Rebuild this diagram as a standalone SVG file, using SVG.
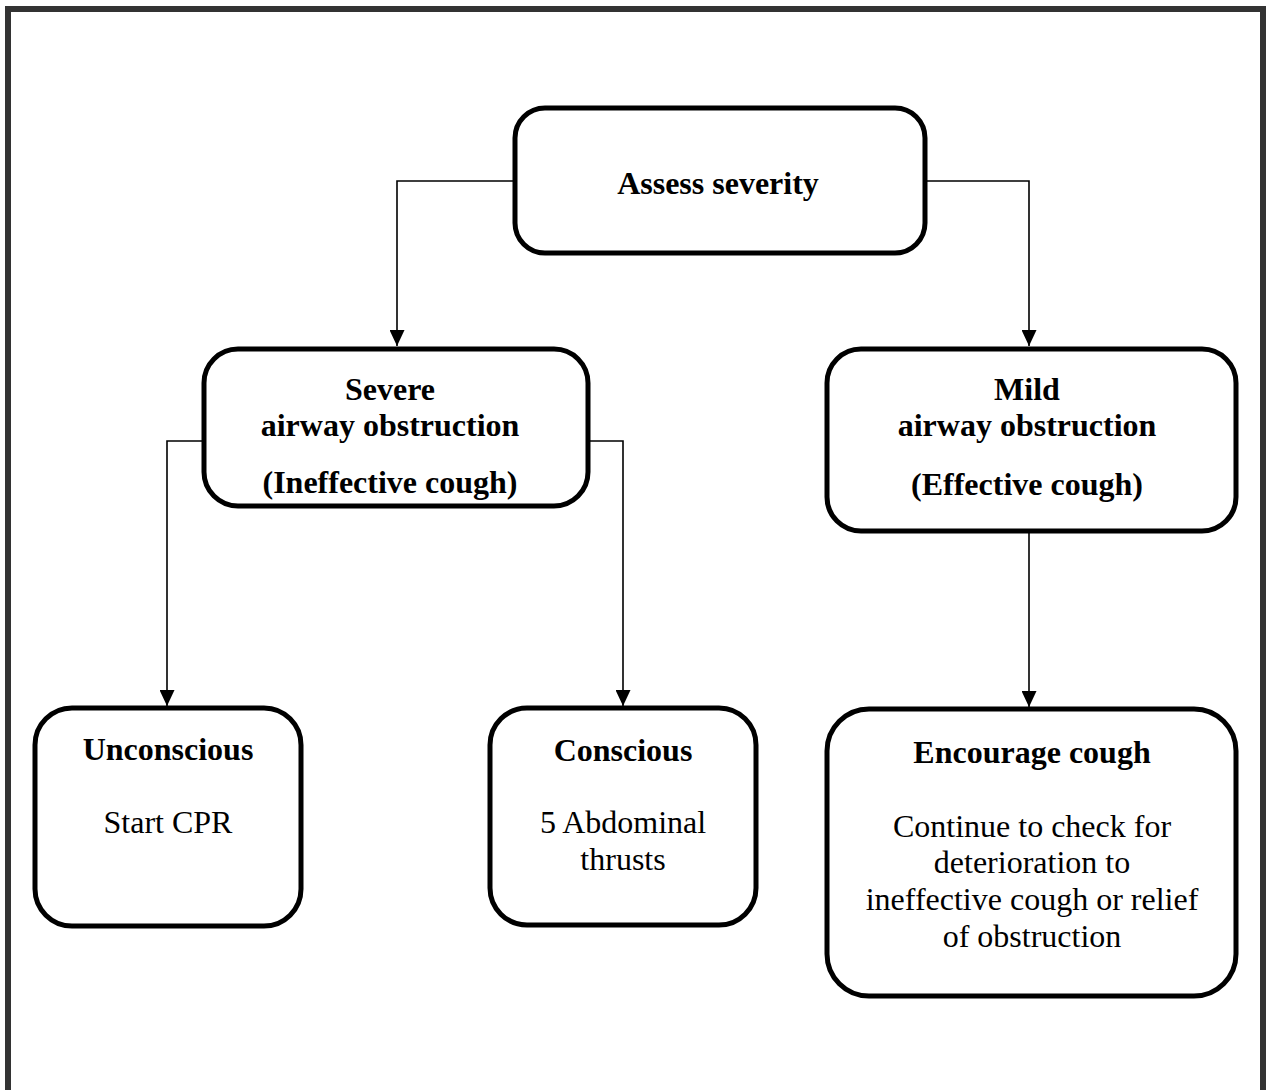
<svg xmlns="http://www.w3.org/2000/svg" width="1266" height="1090" viewBox="0 0 1266 1090">
  <style>
    .box { fill: #ffffff; stroke: #000000; stroke-width: 5; }
    .link { fill: none; stroke: #000000; stroke-width: 1.6; }
    .t { font-family: "Liberation Serif", "Times New Roman", serif; font-size: 32px; fill: #000000; text-anchor: middle; }
    .b { font-weight: bold; }
  </style>
  <defs>
    <marker id="arrow" viewBox="0 0 16 15" refX="16" refY="7.5" markerWidth="16" markerHeight="15" markerUnits="userSpaceOnUse" orient="auto">
      <path d="M0,0 L16,7.5 L0,15 Z" fill="#000000"/>
    </marker>
  </defs>

  <!-- page frame -->
  <rect x="8" y="9" width="1255" height="1100" fill="#ffffff" stroke="#333333" stroke-width="6"/>

  <!-- connectors -->
  <g id="connectors">
    <path class="link" d="M515,181 H397 V346" marker-end="url(#arrow)"/>
    <path class="link" d="M925,181 H1029 V346" marker-end="url(#arrow)"/>
    <path class="link" d="M204,441 H167 V706" marker-end="url(#arrow)"/>
    <path class="link" d="M588,441 H623 V706" marker-end="url(#arrow)"/>
    <path class="link" d="M1029,531 V707" marker-end="url(#arrow)"/>
  </g>

  <g id="assess">
    <rect class="box" x="515" y="108" width="410" height="145" rx="30"/>
    <text class="t b" x="718" y="194">Assess severity</text>
  </g>

  <g id="severe">
    <rect class="box" x="204" y="349" width="384" height="157" rx="34"/>
    <text class="t b" x="390" y="400">Severe</text>
    <text class="t b" x="390" y="436">airway obstruction</text>
    <text class="t b" x="390" y="493">(Ineffective cough)</text>
  </g>

  <g id="mild">
    <rect class="box" x="827" y="349" width="409" height="182" rx="34"/>
    <text class="t b" x="1027" y="400">Mild</text>
    <text class="t b" x="1027" y="436">airway obstruction</text>
    <text class="t b" x="1027" y="495">(Effective cough)</text>
  </g>

  <g id="unconscious">
    <rect class="box" x="35" y="708" width="266" height="218" rx="37"/>
    <text class="t b" x="168" y="760">Unconscious</text>
    <text class="t" x="168" y="833">Start CPR</text>
  </g>

  <g id="conscious">
    <rect class="box" x="490" y="708" width="266" height="217" rx="37"/>
    <text class="t b" x="623" y="761">Conscious</text>
    <text class="t" x="623" y="833">5 Abdominal</text>
    <text class="t" x="623" y="870">thrusts</text>
  </g>

  <g id="encourage">
    <rect class="box" x="827" y="709" width="409" height="287" rx="42"/>
    <text class="t b" x="1032" y="763">Encourage cough</text>
    <text class="t" x="1032" y="837">Continue to check for</text>
    <text class="t" x="1032" y="873">deterioration to</text>
    <text class="t" x="1032" y="910">ineffective cough or relief</text>
    <text class="t" x="1032" y="947">of obstruction</text>
  </g>
</svg>
